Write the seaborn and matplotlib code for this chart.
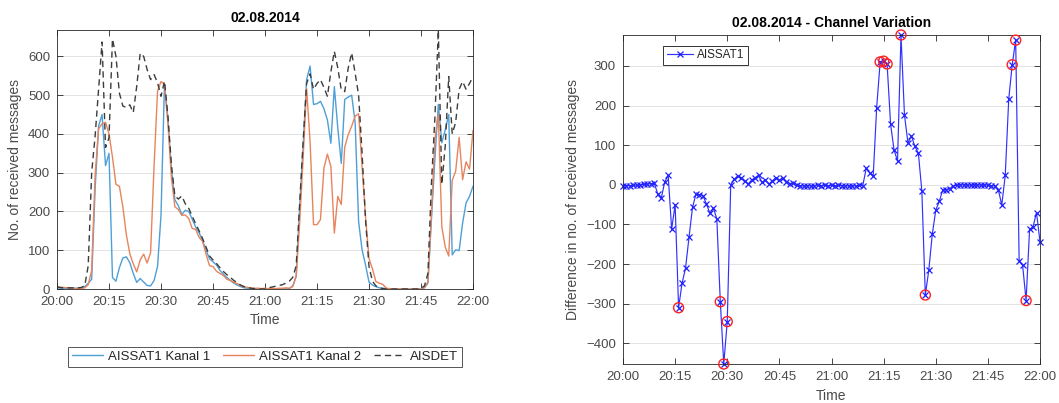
import numpy as np
import pandas as pd
import matplotlib
matplotlib.use("Agg")
import matplotlib.pyplot as plt
import seaborn as sns

# Sample times in minutes after 20:00 (one sample per minute)
minutes = np.arange(121)

kanal1 = [3, 2, 2, 2, 2, 2, 2, 3, 6, 15,
          25, 260, 420, 450, 318, 350, 30, 20, 55, 80,
          83, 68, 40, 17, 27, 18, 9, 8, 22, 58,
          190, 528, 440, 310, 230, 215, 192, 203, 200, 180,
          160, 145, 125, 100, 78, 70, 62, 48, 38, 30,
          22, 15, 10, 6, 3, 2, 1, 0, 0, 0,
          0, 0, 0, 0, 0, 0, 0, 1, 8, 32,
          213, 368, 540, 575, 476, 478, 484, 465, 436, 376,
          522, 415, 324, 489, 495, 500, 430, 174, 101, 62,
          18, 10, 6, 3, 2, 1, 0, 0, 0, 0,
          0, 0, 0, 0, 0, 0, 3, 15, 178, 334,
          476, 377, 411, 450, 88, 101, 99, 170, 222, 239, 265]

kanal2 = [6, 4, 4, 3, 3, 2, 1, 1, 3, 11,
          48, 294, 413, 426, 430, 400, 340, 270, 265, 212,
          140, 91, 65, 44, 75, 90, 67, 94, 317, 510,
          535, 528, 426, 288, 212, 205, 190, 191, 182, 156,
          154, 133, 123, 90, 60, 58, 46, 40, 35, 25,
          22, 17, 14, 8, 6, 4, 2, 2, 2, 1,
          2, 1, 2, 1, 2, 2, 3, 2, 6, 34,
          171, 338, 518, 380, 166, 166, 179, 312, 348, 316,
          144, 239, 218, 366, 398, 420, 446, 452, 316, 187,
          79, 52, 19, 15, 12, 2, 1, 0, 0, 0,
          0, 0, 0, 0, 0, 0, 4, 18, 190, 385,
          452, 161, 108, 85, 280, 304, 391, 282, 328, 309, 409]

aisdet = [5, 4, 3, 3, 3, 3, 3, 4, 8, 60,
          300, 395, 515, 637, 365, 390, 645, 600, 505, 472,
          468, 475, 455, 523, 608, 600, 566, 540, 553, 532,
          497, 536, 446, 320, 240, 232, 240, 220, 208, 188,
          168, 150, 130, 108, 85, 75, 66, 55, 45, 37,
          30, 22, 16, 10, 6, 4, 2, 1, 0, 0,
          0, 3, 5, 7, 9, 11, 15, 20, 30, 60,
          220, 380, 530, 555, 515, 530, 540, 520, 497, 560,
          613, 570, 514, 509, 570, 609, 557, 500, 351, 178,
          58, 20, 8, 3, 1, 0, 0, 0, 0, 0,
          0, 0, 0, 0, 0, 2, 8, 40, 270, 440,
          668, 270, 370, 548, 400, 430, 515, 535, 515, 530, 548]

channel_diff = [-3, -2, -2, -1, -1, 0, 1, 2, 3, 4,
                -23, -34, 7, 24, -112, -50, -310, -248, -210, -132,
                -57, -23, -25, -27, -48, -72, -58, -86, -295, -452,
                -345, 0, 14, 22, 18, 10, 2, 12, 18, 24,
                6, 12, 2, 10, 18, 12, 16, 8, 3, 5,
                0, -2, -3, -2, -3, -2, -1, -2, -1, -2,
                -1, -2, -1, -2, -2, -3, -2, -3, -1, -2,
                42, 30, 22, 195, 310, 312, 305, 153, 88, 60,
                378, 176, 106, 123, 97, 80, -16, -278, -215, -125,
                -64, -42, -13, -12, -10, -2, -1, 0, 0, 0,
                -1, 0, 0, -1, 0, -1, -2, -3, -12, -51,
                24, 216, 303, 365, -192, -203, -292, -112, -106, -70, -144]

tick_minutes = [0, 15, 30, 45, 60, 75, 90, 105, 120]
tick_labels = ["20:00", "20:15", "20:30", "20:45", "21:00",
               "21:15", "21:30", "21:45", "22:00"]
left_yticks = [0, 100, 200, 300, 400, 500, 600]
right_yticks = [-400, -300, -200, -100, 0, 100, 200, 300]
peak_threshold = 260

sns.set_theme(style="ticks")
plt.rcParams["font.family"] = ["Liberation Sans", "DejaVu Sans"]

AX_COLOR = "#262626"
TICK_COLOR = "#4a4a4a"


def matlab_style(ax):
    for s in ax.spines.values():
        s.set_color(AX_COLOR)
        s.set_linewidth(0.6)
    ax.tick_params(direction="in", top=True, right=True, length=4, width=0.6,
                   colors=AX_COLOR, labelcolor=TICK_COLOR, labelsize=9.5, pad=5)
    ax.yaxis.grid(True, color="#e3e3e3", linewidth=0.7)
    ax.xaxis.grid(False)
    ax.set_axisbelow(True)
    ax.set_xticks(tick_minutes, tick_labels)
    ax.set_xlim(0, 120)
    ax.set_xlabel("Time", fontsize=10, color=TICK_COLOR)


W, H = 1059, 403
fig = plt.figure(figsize=(W / 100, H / 100), dpi=100)
fig.patch.set_facecolor("white")
ax1 = fig.add_axes([57 / W, 1 - 289 / H, 416 / W, 259 / H])
ax2 = fig.add_axes([623 / W, 1 - 364 / H, 417 / W, 329 / H])

# ---- left: received messages per channel ----
df = pd.DataFrame({"t": minutes, "k1": kanal1, "k2": kanal2, "det": aisdet})
sns.lineplot(data=df, x="t", y="k1", ax=ax1, color="#4d9fd8", linewidth=1.0,
             label="AISSAT1 Kanal 1")
sns.lineplot(data=df, x="t", y="k2", ax=ax1, color="#e8845d", linewidth=1.0,
             label="AISSAT1 Kanal 2")
sns.lineplot(data=df, x="t", y="det", ax=ax1, color="#3c3c3c", linewidth=1.0,
             dashes=False, label="AISDET")
ax1.get_lines()[2].set_dashes((4.5, 3))
handles, labels = ax1.get_legend_handles_labels()
ax1.get_legend().remove()
matlab_style(ax1)
ax1.set_ylim(0, max(aisdet))
ax1.set_yticks(left_yticks)
ax1.set_ylabel("No. of received messages", fontsize=10, color=TICK_COLOR)
ax1.set_title("02.08.2014", fontsize=10, fontweight="bold", color="black", pad=6)
leg1 = fig.legend(handles, labels, loc="upper center", ncol=3,
                  bbox_to_anchor=(265 / W, 1 - 340 / H), frameon=True,
                  fancybox=False, edgecolor="#555555", framealpha=1,
                  fontsize=9.5, handlelength=2.3, columnspacing=1.0,
                  handletextpad=0.4, borderpad=0.3)
leg1.get_frame().set_linewidth(0.7)
for t in leg1.get_texts():
    t.set_color("#262626")

# ---- right: difference between the two channels ----
dfd = pd.DataFrame({"t": minutes, "d": channel_diff})
sns.lineplot(data=dfd, x="t", y="d", ax=ax2, color="#3030ff", linewidth=0.85,
             marker="x", markersize=5, markeredgecolor="#2020ff",
             markeredgewidth=0.9, label="AISSAT1", clip_on=False)
peaks = dfd[dfd["d"].abs() > peak_threshold]
sns.scatterplot(data=peaks, x="t", y="d", ax=ax2, s=52, facecolor="none",
                edgecolor="#ff2020", linewidth=1.0, clip_on=False, zorder=4,
                legend=False)
h2, l2 = ax2.get_legend_handles_labels()
ax2.get_legend().remove()
matlab_style(ax2)
ax2.set_ylim(min(channel_diff), max(channel_diff))
ax2.set_yticks(right_yticks)
ax2.set_ylabel("Difference in no. of received messages", fontsize=10,
               color=TICK_COLOR)
ax2.set_title("02.08.2014 - Channel Variation", fontsize=10,
              fontweight="bold", color="black", pad=6)
leg2 = ax2.legend(h2[:1], l2[:1], loc="upper left",
                  bbox_to_anchor=(0.082, 0.985), frameon=True, fancybox=False,
                  edgecolor="#333333", framealpha=1, fontsize=8.5,
                  handlelength=2.2, handletextpad=0.4, borderpad=0.3)
leg2.get_frame().set_linewidth(0.7)

fig.savefig("out.png", dpi=100)
